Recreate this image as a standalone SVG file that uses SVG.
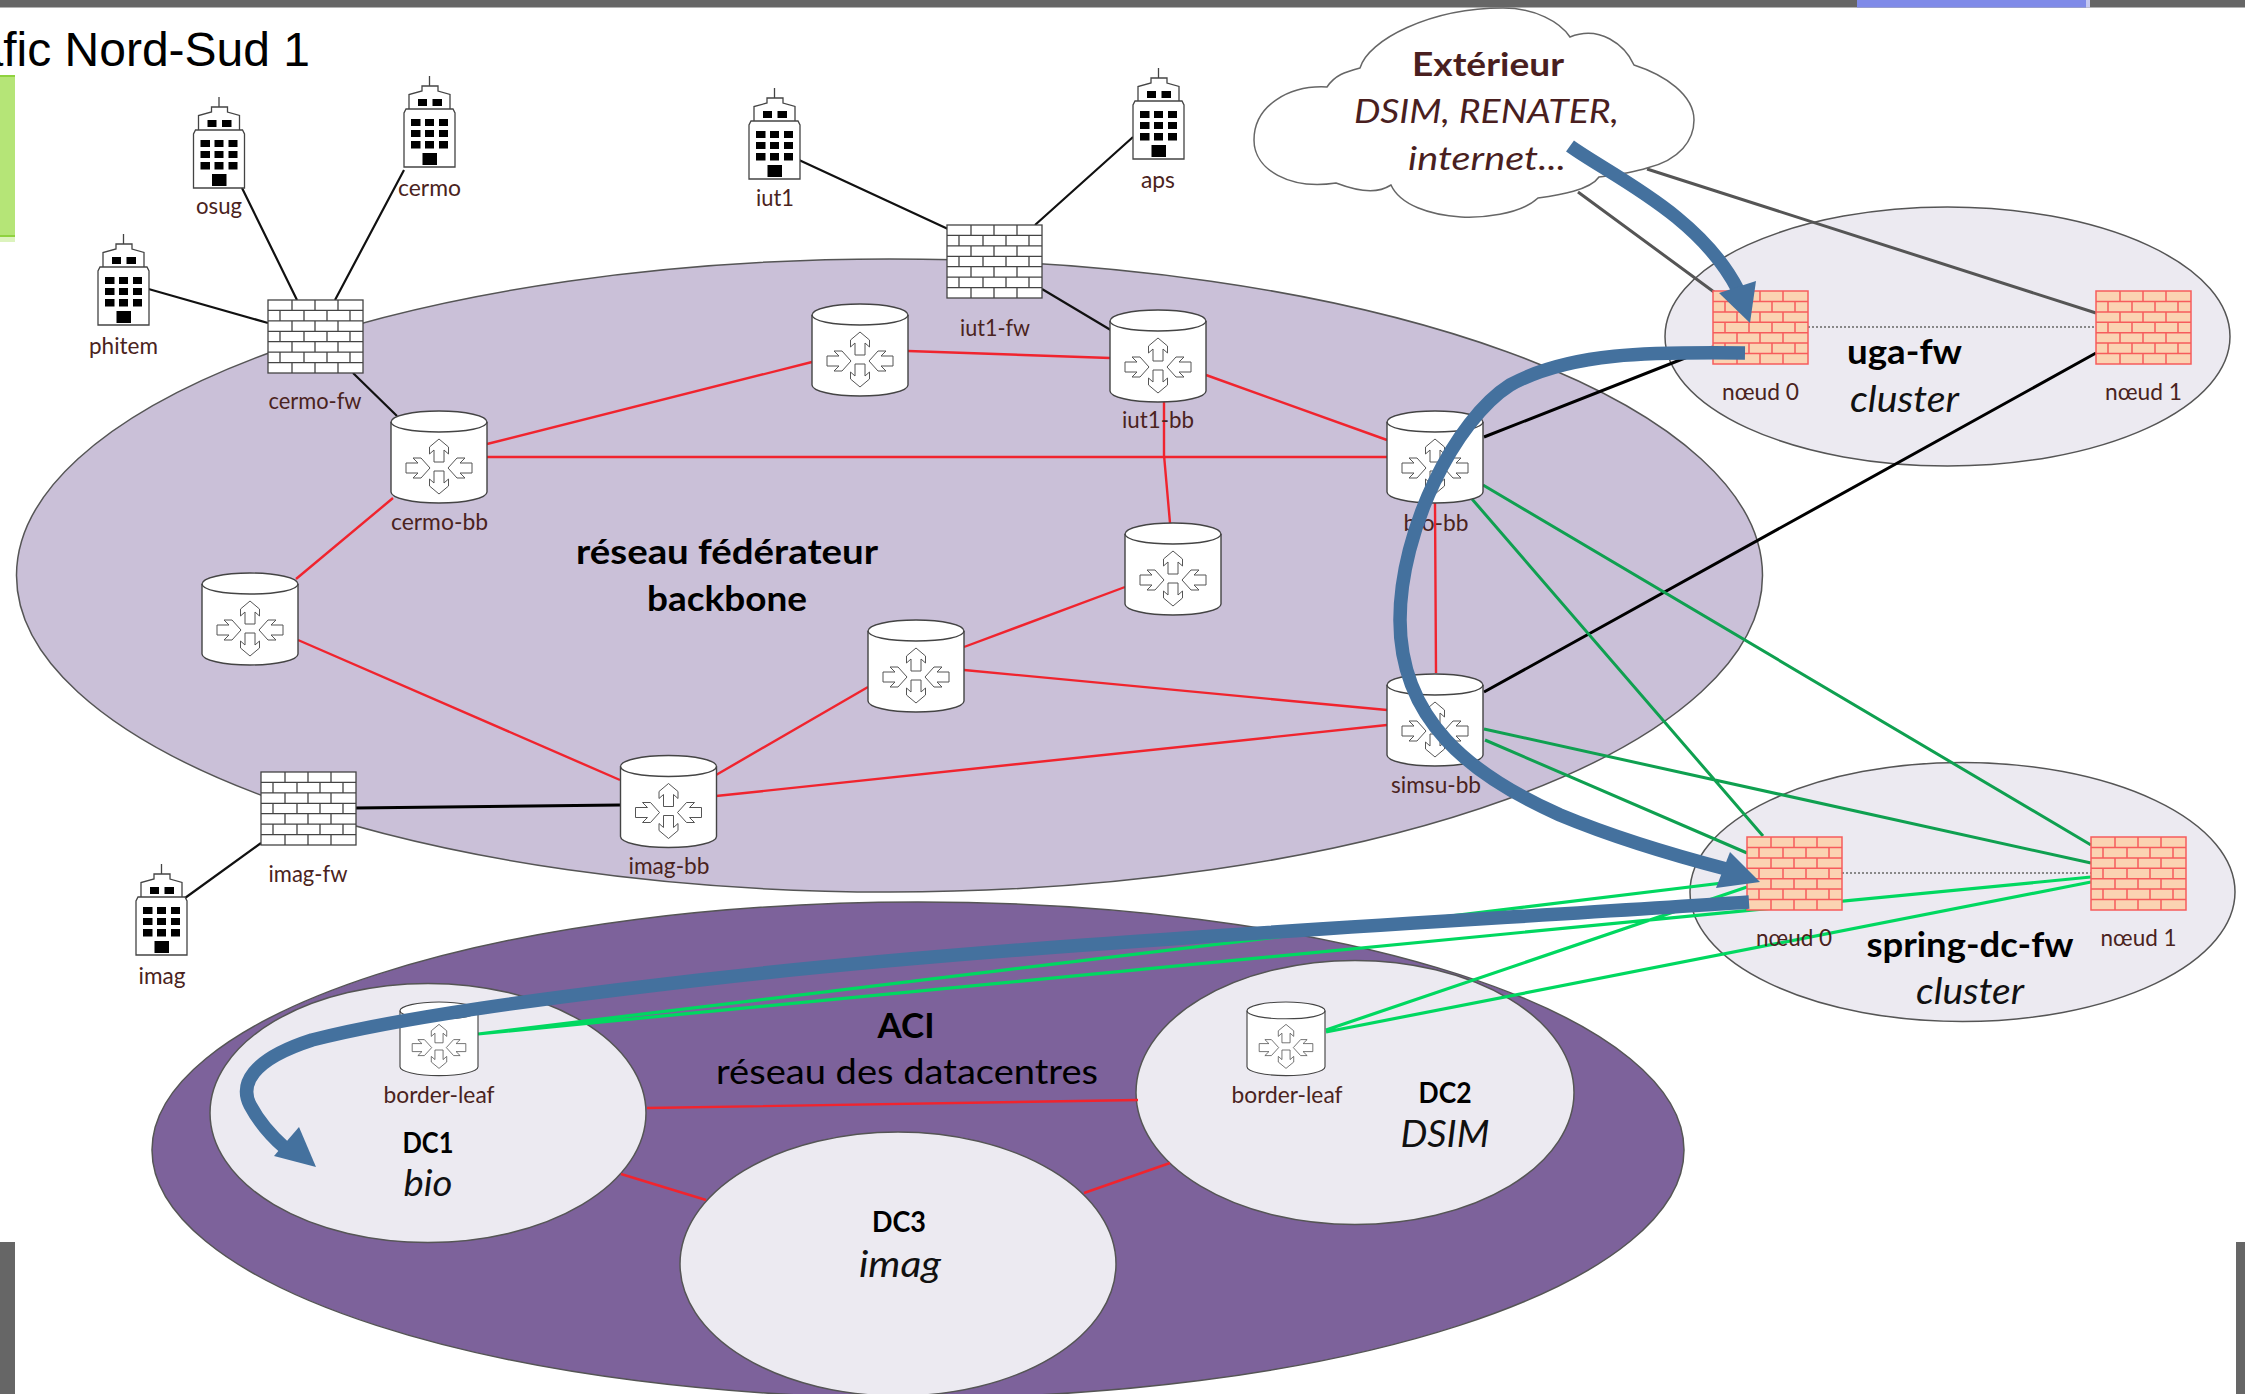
<svg xmlns="http://www.w3.org/2000/svg" width="2245" height="1394" viewBox="0 0 2245 1394">
<style>
text{font-family:Lato,"Open Sans","Liberation Sans",sans-serif;text-anchor:middle}
.lbl{font-size:23px;fill:#4a2320}
.tb{font-size:34px;font-weight:700;fill:#000}
.tr{font-size:34px;fill:#000}
.ts{font-size:29px;font-weight:700;fill:#000}
.ti{font-size:36px;font-style:italic;fill:#111}
.tcb{font-size:33px;font-weight:700;fill:#4a1f1f}
.tci{font-size:33px;font-style:italic;fill:#4a1f1f}
.el{stroke:#555;stroke-width:1.5}
.soft{fill:#eceaf1}
.blk{stroke:#111;stroke-width:2.2;fill:none}
.blk2{stroke:#000;stroke-width:3;fill:none}
.gry{stroke:#555;stroke-width:3;fill:none}
.red{stroke:#f0242e;stroke-width:2.4;fill:none}
.grn{stroke:#0fa050;stroke-width:3;fill:none}
.lim{stroke:#00d860;stroke-width:3.2;fill:none}
.dot{stroke:#888;stroke-width:2;stroke-dasharray:2 2;fill:none}
.flow{stroke:#44719e;stroke-width:13.5;fill:none}
.head{fill:#44719e}
.fw{fill:#fff;stroke:#444;stroke-width:1.3}
.fwr{fill:#fbd3b2;stroke:#f65c5c;stroke-width:1.5}
</style>
<defs>
<symbol id="firewall" viewBox="0 0 95 73" width="95" height="73" overflow="visible">
<rect x="0" y="0" width="95" height="73"/>
<path fill="none" d="M0 10.4H95M0 20.9H95M0 31.3H95M0 41.7H95M0 52.1H95M0 62.6H95M24 0V10.4M47 0V10.4M70 0V10.4M12 10.4V20.9M36 10.4V20.9M59 10.4V20.9M82 10.4V20.9M24 20.9V31.3M47 20.9V31.3M70 20.9V31.3M12 31.3V41.7M36 31.3V41.7M59 31.3V41.7M82 31.3V41.7M24 41.7V52.1M47 41.7V52.1M70 41.7V52.1M12 52.1V62.6M36 52.1V62.6M59 52.1V62.6M82 52.1V62.6M24 62.6V73M47 62.6V73M70 62.6V73"/>
</symbol>
<symbol id="building" viewBox="0 0 51 91" width="51" height="91" overflow="visible">
<path fill="#fff" stroke="#444" stroke-width="1.3" d="M25.5 0V10M18 10H34V15L46 18.5V33H5V18.5L18 15ZM2 33H49L51 37V91H0V37Z"/>
<path d="M14 23h9v7h-9zM28.500 23h9.500v7h-9.500zM7 43h9.500v7H7zM21 43h9v7h-9zM35 43h9v7h-9zM7 54h9.500v7H7zM21 54h9v7h-9zM35 54h9v7h-9zM7 65h9.500v7.500H7zM21 65h9v7.500h-9zM35 65h9v7.500h-9zM18.500 77H33v12H18.500z" fill="#000"/>
</symbol>
<symbol id="router" viewBox="0 0 96 92" width="96" height="92" overflow="visible">
<path fill="#fff" stroke="#444" stroke-width="1.4" d="M0 11C0 5 21 0 48 0S96 5 96 11V81C96 87 75 92 48 92S0 87 0 81Z"/>
<path fill="none" stroke="#444" stroke-width="1.4" d="M0 11C0 17 21 21 48 21S96 17 96 11"/>
<path fill="#fff" stroke="#555" stroke-width="1" d="M48 28L57.500 36V43L53 39V51H43V39L38.500 43V36ZM48 83L57.500 75V68L53 72V60H43V72L38.500 68V75ZM39 57L30 47H22L27 52H15V62H27L22 67H30ZM57 57L66 47H74L69 52H81V62H69L74 67H66Z"/>
</symbol>
</defs>

<rect width="2245" height="1394" fill="#fff"/>
<g id="chrome">
<rect x="0" y="0" width="2245" height="7.500" fill="#666"/>
<rect x="1857" y="0" width="229" height="7.500" fill="#7f8ae8"/>
<rect x="2086" y="0" width="4" height="7.500" fill="#c4c8f0"/>
<rect x="0" y="75" width="15" height="167" fill="#b5e577"/>
<rect x="0" y="75" width="15" height="2" fill="#8fd23f"/>
<rect x="0" y="235" width="15" height="2" fill="#8fd23f"/>
<rect x="0" y="237" width="15" height="5" fill="#dcf3bd"/>
<rect x="0" y="1242" width="15" height="152" fill="#666"/>
<rect x="2236" y="1242" width="9" height="152" fill="#666"/>
</g>
<text x="310" y="66" style="font-family:'Liberation Sans',Arial,sans-serif;font-size:48px;text-anchor:end;fill:#000">Trafic Nord-Sud 1</text>

<g id="zones">
<ellipse id="backbone" class="el" cx="889.500" cy="575.500" rx="873" ry="316.500" fill="#cac0d8"/>
<ellipse id="aci" class="el" cx="918" cy="1150" rx="766" ry="248" fill="#7d629b"/>
<ellipse id="dc1" class="el soft" cx="428" cy="1113" rx="218" ry="129.500"/>
<ellipse id="dc2" class="el soft" cx="1355" cy="1092.500" rx="219" ry="132"/>
<ellipse id="dc3" class="el soft" cx="898" cy="1264" rx="218" ry="132"/>
<ellipse id="uga-cluster" class="el soft" cx="1947.500" cy="336.500" rx="282.500" ry="129.500"/>
<ellipse id="spring-cluster" class="el soft" cx="1962.500" cy="892" rx="272.500" ry="129.500"/>
</g>

<g id="zone-labels">
<text class="tb" x="727" y="564" textLength="302" lengthAdjust="spacingAndGlyphs">réseau fédérateur</text>
<text class="tb" x="727" y="611" textLength="160" lengthAdjust="spacingAndGlyphs">backbone</text>
<text class="tb" x="906" y="1038" textLength="57" lengthAdjust="spacingAndGlyphs">ACI</text>
<text class="tr" x="907" y="1084" textLength="382" lengthAdjust="spacingAndGlyphs">réseau des datacentres</text>
<text class="ts" x="428" y="1153" textLength="51" lengthAdjust="spacingAndGlyphs">DC1</text>
<text class="ti" x="428" y="1196" textLength="49" lengthAdjust="spacingAndGlyphs">bio</text>
<text class="ts" x="1445" y="1103" textLength="53" lengthAdjust="spacingAndGlyphs">DC2</text>
<text class="ti" x="1445" y="1147" textLength="89" lengthAdjust="spacingAndGlyphs">DSIM</text>
<text class="ts" x="899" y="1232" textLength="54" lengthAdjust="spacingAndGlyphs">DC3</text>
<text class="ti" x="900" y="1277" textLength="82" lengthAdjust="spacingAndGlyphs">imag</text>
<text class="tb" x="1904.500" y="364" textLength="115" lengthAdjust="spacingAndGlyphs">uga-fw</text>
<text class="ti" x="1904.500" y="412" textLength="109" lengthAdjust="spacingAndGlyphs">cluster</text>
<text class="tb" x="1970" y="957" textLength="207" lengthAdjust="spacingAndGlyphs">spring-dc-fw</text>
<text class="ti" x="1970" y="1004" textLength="108" lengthAdjust="spacingAndGlyphs">cluster</text>
</g>

<g id="connectors">
<path class="blk" d="M148.500 289L268 323M242 188L297 300M404 170L335 300M353 373L397 416M799 160L948 229M1133 137L1035 225M1042 289L1114 332M185 898L261 843"/>
<path class="blk2" d="M355 808L620 805M1484 437L1713 347M1484 692L2096 353"/>
<path class="gry" d="M1578 192L1714 292M1647 169L2096 313"/>
<path class="dot" d="M1808 327H2096M1842 873H2091"/>
<path class="red" d="M487 444L812 362M487 457H1387M908 351L1110 358M1206 375L1387 440M1164 401L1164 455L1170 523M1435 503L1436 673M393 498L296 579M298 640L620 780M716 775L868 687M964 647L1125 587M964 670L1387 710M716 796L1387 725M647 1108L1138 1100M621 1174L706 1200M1084 1193L1170 1163"/>
<path class="grn" d="M1472 499L1763 836M1483 485L2091 845M1485 740L1747 853M1484 729L2091 863"/>
<path class="lim" d="M478 1034L1747 880M478 1034L2091 877M1326 1030L1747 887M1326 1032L2091 882"/>
</g>

<g id="phitem"><use href="#building" x="98" y="234"/><text class="lbl" x="123.500" y="354" textLength="69" lengthAdjust="spacingAndGlyphs">phitem</text></g>
<g id="osug"><use href="#building" x="193.500" y="97"/><text class="lbl" x="219" y="214" textLength="46" lengthAdjust="spacingAndGlyphs">osug</text></g>
<g id="cermo"><use href="#building" x="404" y="76"/><text class="lbl" x="429.500" y="196" textLength="63" lengthAdjust="spacingAndGlyphs">cermo</text></g>
<g id="iut1"><use href="#building" x="749" y="88"/><text class="lbl" x="775" y="206" textLength="38" lengthAdjust="spacingAndGlyphs">iut1</text></g>
<g id="aps"><use href="#building" x="1133" y="68"/><text class="lbl" x="1158" y="188" textLength="34" lengthAdjust="spacingAndGlyphs">aps</text></g>
<g id="imag"><use href="#building" x="136" y="864"/><text class="lbl" x="162" y="984" textLength="47" lengthAdjust="spacingAndGlyphs">imag</text></g>

<g id="cermo-fw"><use href="#firewall" class="fw" x="268" y="300"/><text class="lbl" x="315" y="409" textLength="93" lengthAdjust="spacingAndGlyphs">cermo-fw</text></g>
<g id="iut1-fw"><use href="#firewall" class="fw" x="947" y="225"/><text class="lbl" x="995" y="336" textLength="70" lengthAdjust="spacingAndGlyphs">iut1-fw</text></g>
<g id="imag-fw"><use href="#firewall" class="fw" x="261" y="772"/><text class="lbl" x="308" y="882" textLength="79" lengthAdjust="spacingAndGlyphs">imag-fw</text></g>

<g id="cermo-bb"><use href="#router" x="391" y="411"/><text class="lbl" x="439.500" y="530" textLength="97" lengthAdjust="spacingAndGlyphs">cermo-bb</text></g>
<g id="router-left"><use href="#router" x="202" y="573"/></g>
<g id="router-top"><use href="#router" x="812" y="304"/></g>
<g id="iut1-bb"><use href="#router" x="1110" y="310"/><text class="lbl" x="1158" y="428" textLength="72" lengthAdjust="spacingAndGlyphs">iut1-bb</text></g>
<g id="bio-bb"><use href="#router" x="1387" y="411"/><text class="lbl" x="1436" y="531" textLength="65" lengthAdjust="spacingAndGlyphs">bio-bb</text></g>
<g id="router-mid"><use href="#router" x="1125" y="523"/></g>
<g id="router-low"><use href="#router" x="868" y="620"/></g>
<g id="simsu-bb"><use href="#router" x="1387" y="674"/><text class="lbl" x="1436" y="793" textLength="90" lengthAdjust="spacingAndGlyphs">simsu-bb</text></g>
<g id="imag-bb"><use href="#router" x="620.500" y="755.500"/><text class="lbl" x="669" y="874" textLength="81" lengthAdjust="spacingAndGlyphs">imag-bb</text></g>

<g id="border-leaf-1"><use href="#router" transform="translate(400 1002) scale(0.8125 0.8)"/><text class="lbl" x="439" y="1103" textLength="111" lengthAdjust="spacingAndGlyphs">border-leaf</text></g>
<g id="border-leaf-2"><use href="#router" transform="translate(1247 1002) scale(0.8125 0.8)"/><text class="lbl" x="1287" y="1103" textLength="111" lengthAdjust="spacingAndGlyphs">border-leaf</text></g>

<g id="uga-node-0"><use href="#firewall" class="fwr" x="1713" y="291"/><text class="lbl" x="1760.500" y="400" textLength="77" lengthAdjust="spacingAndGlyphs">nœud 0</text></g>
<g id="uga-node-1"><use href="#firewall" class="fwr" x="2096" y="291"/><text class="lbl" x="2143.500" y="400" textLength="77" lengthAdjust="spacingAndGlyphs">nœud 1</text></g>
<g id="spring-node-0"><use href="#firewall" class="fwr" x="1747" y="837"/><text class="lbl" x="1794" y="946" textLength="76" lengthAdjust="spacingAndGlyphs">nœud 0</text></g>
<g id="spring-node-1"><use href="#firewall" class="fwr" x="2091" y="837"/><text class="lbl" x="2138.500" y="946" textLength="76" lengthAdjust="spacingAndGlyphs">nœud 1</text></g>

<g id="exterieur">
<path fill="#fff" stroke="#666" stroke-width="1.5" d="M1360 68C1368 40 1430 8 1503 8C1535 8 1560 22 1570 37C1600 25 1625 45 1634 65C1665 75 1694 95 1694 120C1694 140 1680 160 1647 168C1635 172 1615 175 1599 177C1590 190 1560 195 1538 198C1520 215 1480 218 1461 217C1430 215 1400 205 1391 185C1380 192 1365 194 1336 183C1290 190 1254 170 1254 140C1254 105 1290 85 1327 87C1335 75 1345 72 1360 68Z"/>
<text class="tcb" x="1488" y="76" textLength="152" lengthAdjust="spacingAndGlyphs">Extérieur</text>
<text class="tci" x="1486.500" y="123" textLength="265" lengthAdjust="spacingAndGlyphs">DSIM, RENATER,</text>
<text class="tci" x="1487" y="170" textLength="158" lengthAdjust="spacingAndGlyphs">internet...</text>
</g>

<g id="flows">
<path class="flow" d="M1570 146C1610 175 1700 215 1738 290"/>
<polygon class="head" points="1750,323 1719,293 1756,281"/>
<path class="flow" d="M1745 353C1650 352 1570 352 1510 385C1455 420 1400 530 1400 620C1400 720 1470 775 1560 815C1620 840 1680 857 1730 870"/>
<polygon class="head" points="1760,882 1730,852 1716,888"/>
<path class="flow" d="M1749 902C1400 925 1000 945 700 980C545 998 402 1017 312 1040C250 1060 240 1085 250 1105C258 1120 270 1135 285 1148"/>
<polygon class="head" points="316,1167 299,1127 274,1156"/>
</g>
</svg>
